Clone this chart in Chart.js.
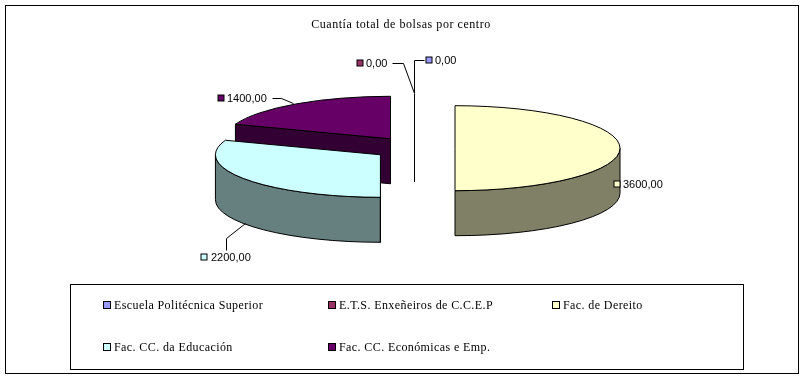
<!DOCTYPE html>
<html>
<head>
<meta charset="utf-8">
<title>Cuantía total de bolsas por centro</title>
<style>
  html, body { margin: 0; background: #fff; }
  canvas { display: block; }
</style>
<script src="https://cdn.jsdelivr.net/npm/chart.js@4"></script>
</head>
<body>
<canvas id="chart" width="805" height="379"></canvas>
<script>
// datos
const categories = [
  "Escuela Politécnica Superior",
  "E.T.S. Enxeñeiros de C.C.E.P",
  "Fac. de Dereito",
  "Fac. CC. da Educación",
  "Fac. CC. Económicas e Emp."
];
const values     = [0, 0, 3600, 2200, 1400];
const topColors  = ["#9999ff", "#993366", "#ffffcc", "#ccffff", "#660066"];
const sideColors = ["#4c4c80", "#4c1933", "#808066", "#668080", "#330033"];
const chartTitle = "Cuantía total de bolsas por centro";

/* ---------- geometria do bolo ---------- */
const RX = 165, RY = 42.5, DEPTH = 45;
const EXPLODE_X = 41, EXPLODE_Y = 11.5;
const SHIFT_X = 13;   // o título fica centrado em 401, o bolo em 414
const SERIF = "'Liberation Serif', serif";
const SANS  = "'Liberation Sans', sans-serif";

// rótulos: caixa, texto e linha guia de cada fatia
const labelSpots = [
  { box: [429, 60], text: [435, 61], leader: [[414, 93], [414, 60], [424, 60]] },
  { box: [360, 63], text: [366, 64], leader: [[414, 93], [403, 63], [392, 63]] },
  { box: [617, 184], text: [623, 185], leader: [] },
  { box: [204, 257], text: [211, 258], leader: [[245, 223], [226, 238], [226, 250]] },
  { box: [221, 98], text: [227, 99], leader: [[293, 103], [281, 98], [272, 98]] }
];
const legendSpots = [[107, 305], [332, 305], [556, 305], [107, 347], [332, 347]];

const fmt = (v) => v.toFixed(2).replace(".", ",");

// ponto na elipse; o ângulo vem do ArcElement do Chart.js
const onEllipse = (cx, cy, a) => [cx + RX * Math.cos(a), cy + RY * Math.sin(a)];

function sliceCenter(arc) {
  const mid = (arc.startAngle + arc.endAngle) / 2;
  return [arc.x + SHIFT_X + EXPLODE_X * Math.cos(mid), arc.y + EXPLODE_Y * Math.sin(mid)];
}

function topPath(ctx, cx, cy, arc) {
  ctx.beginPath();
  ctx.moveTo(cx, cy);
  ctx.ellipse(cx, cy, RX, RY, 0, arc.startAngle, arc.endAngle);
  ctx.closePath();
}

function drawSide(ctx, arc, color) {
  const [cx, cy] = sliceCenter(arc);
  ctx.fillStyle = color;
  ctx.strokeStyle = "#000";
  ctx.lineWidth = 1;

  // parede da borda: só a parte voltada para a frente
  const from = Math.max(arc.startAngle, 0);
  const to = Math.min(arc.endAngle, Math.PI);
  if (to > from) {
    ctx.beginPath();
    ctx.ellipse(cx, cy, RX, RY, 0, from, to);
    ctx.ellipse(cx, cy + DEPTH, RX, RY, 0, to, from, true);
    ctx.closePath();
    ctx.fill();
    ctx.stroke();
  }

  // face do corte
  if (arc.startAngle >= Math.PI / 2 - 1e-6) {
    const [px, py] = onEllipse(cx, cy, arc.startAngle);
    ctx.beginPath();
    ctx.moveTo(cx, cy);
    ctx.lineTo(px, py);
    ctx.lineTo(px, py + DEPTH);
    ctx.lineTo(cx, cy + DEPTH);
    ctx.closePath();
    ctx.fill();
    ctx.stroke();
  }
}

const pie3d = {
  id: "pie3d",
  beforeDraw(chart) {
    chart.ctx.letterSpacing = "0.55px"; // título
  },
  // troca o desenho plano das fatias pela versão em perspectiva
  beforeDatasetsDraw(chart) {
    const ctx = chart.ctx;
    const arcs = chart.getDatasetMeta(0).data;
    ctx.letterSpacing = "0px";
    ctx.save();

    // fatias de valor zero: só um traço vertical
    arcs.forEach((arc, i) => {
      if (values[i] !== 0) return;
      const [cx, cy] = sliceCenter(arc);
      ctx.strokeStyle = "#000";
      ctx.beginPath();
      ctx.moveTo(Math.round(cx) + 0.5, cy - RY);
      ctx.lineTo(Math.round(cx) + 0.5, cy + DEPTH);
      ctx.stroke();
    });

    [4, 3, 2].forEach((i) => drawSide(ctx, arcs[i], sideColors[i]));
    [4, 3, 2].forEach((i) => {
      const [cx, cy] = sliceCenter(arcs[i]);
      topPath(ctx, cx, cy, arcs[i]);
      ctx.fillStyle = topColors[i];
      ctx.fill();
      ctx.strokeStyle = "#000";
      ctx.stroke();
    });
    ctx.restore();
    return false;
  },
  afterDraw(chart) {
    const ctx = chart.ctx;
    ctx.save();
    ctx.strokeStyle = "#000";
    ctx.lineWidth = 1;

    // moldura externa
    ctx.strokeRect(5.5, 5.5, 793, 368);

    // rótulos de dados
    ctx.font = "11px " + SANS;
    ctx.textBaseline = "middle";
    ctx.fillStyle = "#000";
    labelSpots.forEach((s, i) => {
      if (s.leader.length) {
        ctx.beginPath();
        s.leader.forEach((p, j) => (j ? ctx.lineTo(p[0] + 0.5, p[1] + 0.5) : ctx.moveTo(p[0] + 0.5, p[1] + 0.5)));
        ctx.stroke();
      }
      ctx.fillStyle = topColors[i];
      ctx.fillRect(s.box[0] - 3, s.box[1] - 3, 6, 6);
      ctx.strokeRect(s.box[0] - 3, s.box[1] - 3, 6, 6);
      ctx.fillStyle = "#000";
      ctx.fillText(fmt(values[i]), s.text[0], s.text[1]);
    });

    // legenda
    ctx.strokeRect(70.5, 284.5, 673, 85);
    ctx.font = "12px " + SERIF;
    ctx.letterSpacing = "0.4px";
    legendSpots.forEach((s, i) => {
      ctx.fillStyle = topColors[i];
      ctx.fillRect(s[0] - 3, s[1] - 3, 6, 6);
      ctx.strokeRect(s[0] - 3.5, s[1] - 3.5, 7, 7);
      ctx.fillStyle = "#000";
      ctx.fillText(categories[i], s[0] + 7, s[1] + 1);
    });
    ctx.letterSpacing = "0px";
    ctx.restore();
  }
};

new Chart(document.getElementById("chart"), {
  type: "pie",
  data: {
    labels: categories,
    datasets: [{ data: values, backgroundColor: topColors, borderWidth: 0 }]
  },
  options: {
    responsive: false,
    animation: false,
    layout: { padding: { left: 0, right: 3, top: 0, bottom: 123 } },
    plugins: {
      legend: { display: false },
      tooltip: { enabled: false },
      title: {
        display: true,
        text: chartTitle,
        color: "#000",
        font: { family: SERIF, size: 12, weight: "normal" },
        padding: { top: 18, bottom: 8 }
      }
    }
  },
  plugins: [pie3d]
});
</script>
</body>
</html>
